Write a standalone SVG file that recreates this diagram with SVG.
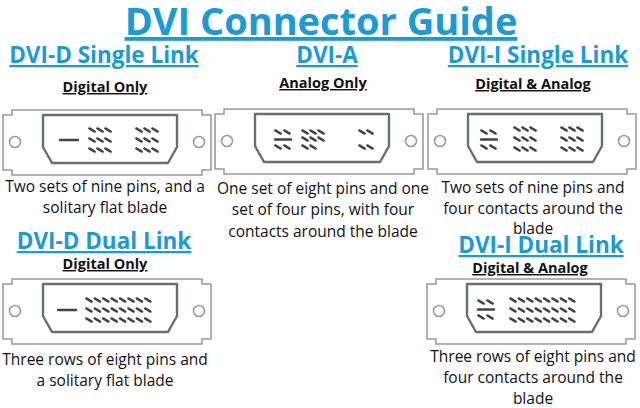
<svg xmlns="http://www.w3.org/2000/svg" xmlns:xlink="http://www.w3.org/1999/xlink" width="640" height="408" viewBox="0 0 640 408">
<style>
.t{font-family:"Open Sans","Liberation Sans",sans-serif;fill:#1b9ad6;font-weight:bold;text-decoration:underline;text-anchor:middle}
.s{font-family:"Open Sans","Liberation Sans",sans-serif;font-weight:bold;font-size:14.5px;text-decoration:underline;text-anchor:middle;fill:#111}
.d{font-family:"Open Sans","Liberation Sans",sans-serif;font-size:15.5px;text-anchor:middle;fill:#111}
.sh{fill:#fff;stroke:#9a9ba0;stroke-width:1.6}
.in{fill:#fff;stroke:#6a6d73;stroke-width:2.4}
.p{stroke:#444;stroke-width:2.4;stroke-linecap:round}
</style>
<defs>
<g id="shell">
<path class="sh" d="M0,6 H9 V1 H199 V6 H208 V61 H199 V66 H9 V61 H0 Z"/>
<path class="in" d="M40,6 H174 V38 L165,54 H49 L40,38 Z" stroke-linejoin="round"/>
<circle class="sh" cx="12" cy="33" r="5.5"/>
<circle class="sh" cx="196" cy="33" r="5.5"/>
</g>
<path id="pin" class="p" d="M-2.7,-1.6 L2.7,1.6"/>
<g id="n9"><use href="#pin" x="0" y="0"/><use href="#pin" x="8" y="0"/><use href="#pin" x="16" y="0"/><use href="#pin" x="0" y="10"/><use href="#pin" x="8" y="10"/><use href="#pin" x="16" y="10"/><use href="#pin" x="0" y="20"/><use href="#pin" x="8" y="20"/><use href="#pin" x="16" y="20"/></g>
<g id="cross"><use href="#pin" x="0" y="0"/><use href="#pin" x="9" y="0"/><use href="#pin" x="0" y="15"/><use href="#pin" x="9" y="15"/><path class="p" d="M-3,7.5 H13"/></g>
<g id="row8"><use href="#pin" x="0"/><use href="#pin" x="8.4"/><use href="#pin" x="16.8"/><use href="#pin" x="25.2"/><use href="#pin" x="33.6"/><use href="#pin" x="42"/><use href="#pin" x="50.4"/><use href="#pin" x="58.8"/></g>
<g id="r24"><use href="#row8" y="0"/><use href="#row8" y="10"/><use href="#row8" y="20"/></g>
</defs>
<rect width="640" height="408" fill="#fff"/>
<g id="title"><text class="t" x="321" y="35" font-size="38">DVI Connector Guide</text></g>

<g id="dvi-d-single">
<text class="t" x="104" y="63" font-size="22.5">DVI-D Single Link</text>
<text class="s" x="105" y="92">Digital Only</text>
<g transform="translate(3,109)"><use href="#shell"/><path class="p" d="M57,31 H75" stroke-width="2.8"/><use href="#n9" x="89" y="21"/><use href="#n9" x="136" y="21"/></g>
<text class="d" x="105" y="192">Two sets of nine pins, and a</text>
<text class="d" x="105" y="213">solitary flat blade</text>
</g>

<g id="dvi-a">
<text class="t" x="327" y="63" font-size="22.5">DVI-A</text>
<text class="s" x="323" y="88">Analog Only</text>
<g transform="translate(215,108)"><use href="#shell"/><use href="#cross" x="63" y="24"/>
<use href="#pin" x="90" y="24"/><use href="#pin" x="98" y="24"/><use href="#pin" x="106" y="24"/>
<use href="#pin" x="90" y="31"/><use href="#pin" x="98" y="31"/><use href="#pin" x="106" y="31"/>
<use href="#pin" x="90" y="39"/><use href="#pin" x="98" y="39"/>
<use href="#pin" x="147" y="24"/><use href="#pin" x="155" y="24"/><use href="#pin" x="147" y="39"/><use href="#pin" x="155" y="39"/></g>
<text class="d" x="323" y="194">One set of eight pins and one</text>
<text class="d" x="323" y="215">set of four pins, with four</text>
<text class="d" x="323" y="237">contacts around the blade</text>
</g>

<g id="dvi-i-single">
<text class="t" x="538" y="63" font-size="22.5">DVI-I Single Link</text>
<text class="s" x="533" y="89">Digital &amp; Analog</text>
<g transform="translate(428,108)"><use href="#shell"/><use href="#cross" x="56" y="24"/><use href="#n9" x="89" y="21"/><use href="#n9" x="136" y="21"/></g>
<text class="d" x="533" y="193">Two sets of nine pins and</text>
<text class="d" x="533" y="214">four contacts around the</text>
<text class="d" x="533" y="234">blade</text>
</g>

<g id="dvi-d-dual">
<text class="t" x="104" y="249" font-size="22.5">DVI-D Dual Link</text>
<text class="s" x="105" y="269">Digital Only</text>
<g transform="translate(3,278)"><use href="#shell"/><path class="p" d="M55,32 H73" stroke-width="2.8"/><use href="#r24" x="86" y="22"/></g>
<text class="d" x="105" y="365">Three rows of eight pins and</text>
<text class="d" x="105" y="386">a solitary flat blade</text>
</g>

<g id="dvi-i-dual">
<rect x="440" y="236" width="200" height="20" fill="#fff"/>
<text class="t" x="541" y="253" font-size="22.5">DVI-I Dual Link</text>
<text class="s" x="530" y="273">Digital &amp; Analog</text>
<g transform="translate(427,278)"><use href="#shell"/><use href="#cross" x="54" y="24"/><use href="#r24" x="86" y="22"/></g>
<text class="d" x="533" y="362">Three rows of eight pins and</text>
<text class="d" x="533" y="383">four contacts around the</text>
<text class="d" x="533" y="404">blade</text>
</g>
</svg>
